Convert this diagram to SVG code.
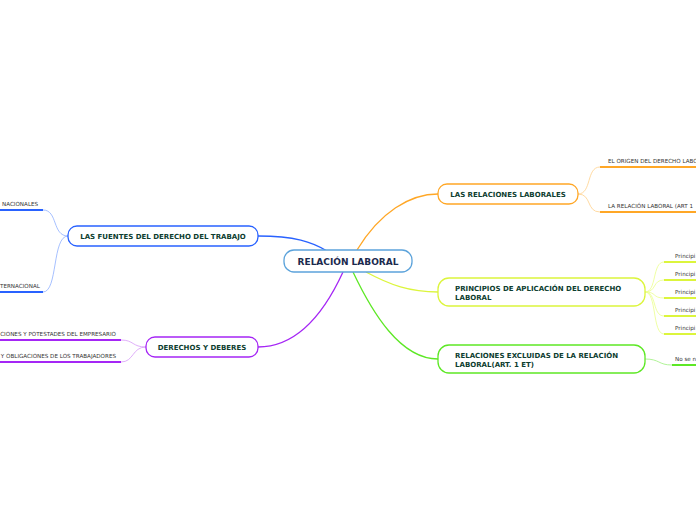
<svg xmlns="http://www.w3.org/2000/svg" width="696" height="520" viewBox="0 0 696 520">
<style>
.node{fill:#fff;stroke-width:1.3}
.t{font-family:"DejaVu Sans",Verdana,sans-serif;font-weight:bold;font-size:7px;fill:#0d3d2f}
.s{font-family:"DejaVu Sans",Verdana,sans-serif;font-size:5.6px;fill:#333}
.c{fill:none}
.u{stroke-width:2;fill:none}
</style>
<rect width="696" height="520" fill="#fff"/>
<g id="connectors">
  <path class="c" d="M258,236 C295,236 312,242 327,251" stroke="#2962ff" stroke-width="1.3"/>
  <path class="c" d="M357,250 C380,212 410,194 438,194" stroke="#ffa726" stroke-width="1.3"/>
  <path class="c" d="M366,272 C390,285 410,292 438,292" stroke="#dcf53c" stroke-width="1.3"/>
  <path class="c" d="M353,272 C372,312 400,359 438,359" stroke="#5de825" stroke-width="1.3"/>
  <path class="c" d="M343,272 C320,322 292,347 258,347" stroke="#a526f5" stroke-width="1.3"/>
  <path class="c" d="M68,236 C52,236 58,210 43,210" stroke="#8fb0ff" stroke-width="0.8"/>
  <path class="c" d="M68,236 C52,236 58,292 43,292" stroke="#8fb0ff" stroke-width="0.8"/>
  <path class="c" d="M146,347 C132,347 134,340 121,340" stroke="#d79af7" stroke-width="0.8"/>
  <path class="c" d="M146,347 C132,347 134,362 121,362" stroke="#d79af7" stroke-width="0.8"/>
  <path class="c" d="M578,194 C592,194 586,167 600,167" stroke="#ffd08a" stroke-width="0.8"/>
  <path class="c" d="M578,194 C592,194 586,212 600,212" stroke="#ffd08a" stroke-width="0.8"/>
  <path class="c" d="M645,292 C657,292 652,262 664,262" stroke="#ebff8c" stroke-width="0.8"/>
  <path class="c" d="M645,292 C657,292 652,280 664,280" stroke="#ebff8c" stroke-width="0.8"/>
  <path class="c" d="M645,292 C657,292 652,298 664,298" stroke="#ebff8c" stroke-width="0.8"/>
  <path class="c" d="M645,292 C657,292 652,316 664,316" stroke="#ebff8c" stroke-width="0.8"/>
  <path class="c" d="M645,292 C657,292 652,334 664,334" stroke="#ebff8c" stroke-width="0.8"/>
  <path class="c" d="M645,359 C660,359 658,365 672,365" stroke="#9cf07c" stroke-width="0.8"/>
</g>
<g id="center">
  <rect class="node" x="284" y="250" width="128" height="22" rx="10" stroke="#5ca3db"/>
  <text x="348" y="265" text-anchor="middle" font-family="DejaVu Sans,Verdana,sans-serif" font-weight="bold" font-size="9" fill="#1b2a4e">RELACIÓN LABORAL</text>
</g>
<g id="fuentes">
  <rect class="node" x="68" y="226" width="190" height="20" rx="9" stroke="#2962ff"/>
  <text class="t" x="163" y="238.5" text-anchor="middle">LAS FUENTES DEL DERECHO DEL TRABAJO</text>
</g>
<g id="fuentes-nac">
  <text class="s" x="2" y="206">NACIONALES</text>
  <path class="u" d="M0,210 H43" stroke="#2962ff"/>
</g>
<g id="fuentes-int">
  <text class="s" x="0" y="288">TERNACIONAL</text>
  <path class="u" d="M0,292 H43" stroke="#2962ff"/>
</g>
<g id="derechos">
  <rect class="node" x="146" y="337" width="112" height="20" rx="9" stroke="#a526f5"/>
  <text class="t" x="202" y="349.5" text-anchor="middle">DERECHOS Y DEBERES</text>
</g>
<g id="der-emp">
  <text class="s" x="116" y="336" text-anchor="end">CIONES Y POTESTADES DEL EMPRESARIO</text>
  <path class="u" d="M0,340 H121" stroke="#a526f5"/>
</g>
<g id="der-trab">
  <text class="s" x="116" y="357.5" text-anchor="end">Y OBLIGACIONES DE LOS TRABAJADORES</text>
  <path class="u" d="M0,362 H121" stroke="#a526f5"/>
</g>
<g id="relaciones">
  <rect class="node" x="438" y="184" width="140" height="20" rx="9" stroke="#ffa726"/>
  <text class="t" x="508" y="196.5" text-anchor="middle">LAS RELACIONES LABORALES</text>
</g>
<g id="rel-origen">
  <text class="s" x="608" y="163">EL ORIGEN DEL DERECHO LABO</text>
  <path class="u" d="M600,167 H696" stroke="#ffa726"/>
</g>
<g id="rel-relacion">
  <text class="s" x="608" y="208">LA RELACIÓN LABORAL (ART 1</text>
  <path class="u" d="M600,212 H696" stroke="#ffa726"/>
</g>
<g id="principios">
  <rect class="node" x="438" y="278" width="207" height="28" rx="11" stroke="#dcf53c"/>
  <text class="t" x="455" y="290.5">PRINCIPIOS DE APLICACIÓN DEL DERECHO</text>
  <text class="t" x="455" y="299.5">LABORAL</text>
</g>
<g id="p1"><text class="s" x="675" y="258">Principi</text><path class="u" d="M664,262 H696" stroke="#dcf53c"/></g>
<g id="p2"><text class="s" x="675" y="276">Principi</text><path class="u" d="M664,280 H696" stroke="#dcf53c"/></g>
<g id="p3"><text class="s" x="675" y="294">Principi</text><path class="u" d="M664,298 H696" stroke="#dcf53c"/></g>
<g id="p4"><text class="s" x="675" y="312">Principi</text><path class="u" d="M664,316 H696" stroke="#dcf53c"/></g>
<g id="p5"><text class="s" x="675" y="330">Principi</text><path class="u" d="M664,334 H696" stroke="#dcf53c"/></g>
<g id="excluidas">
  <rect class="node" x="438" y="345" width="207" height="28" rx="11" stroke="#5de825"/>
  <text class="t" x="455" y="358">RELACIONES EXCLUIDAS DE LA RELACIÓN</text>
  <text class="t" x="455" y="367">LABORAL(ART. 1 ET)</text>
</g>
<g id="exc-1">
  <text class="s" x="675" y="361">No se n</text>
  <path class="u" d="M672,365 H696" stroke="#5de825"/>
</g>
</svg>
